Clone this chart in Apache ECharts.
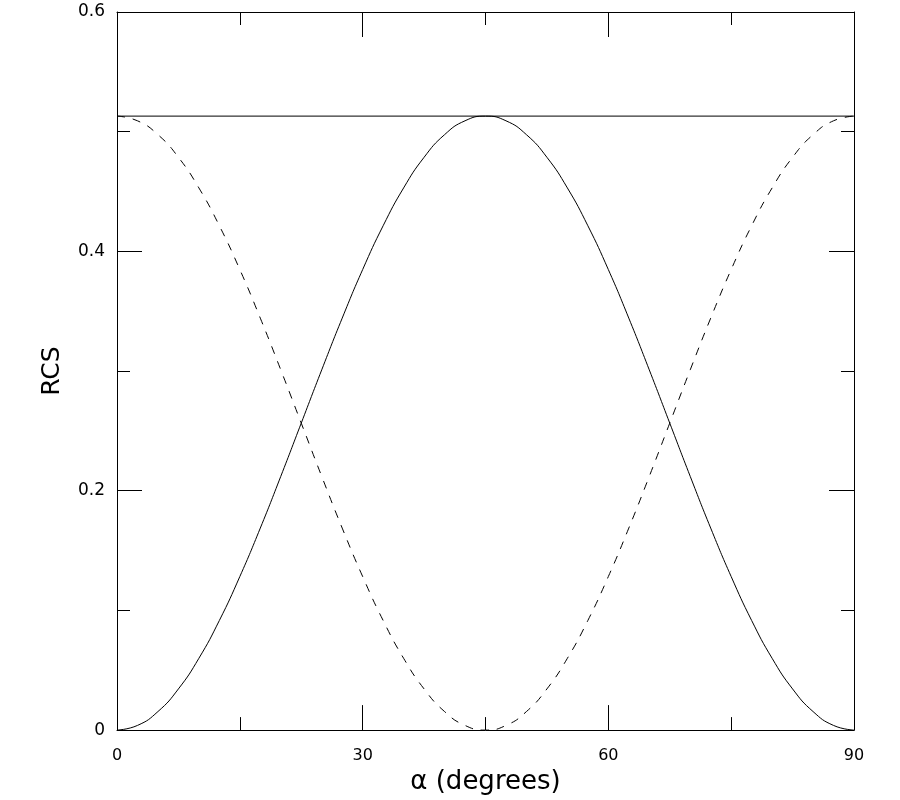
<!DOCTYPE html>
<html>
<head>
<meta charset="utf-8">
<script src="https://cdn.jsdelivr.net/npm/echarts@6/dist/echarts.min.js"></script>
<style>html,body{margin:0;padding:0;background:#fff}#c{width:900px;height:800px}</style>
</head>
<body>
<div id="c"></div>
<script>
var alphaDeg = [0,2.5,5,7.5,10,12.5,15,17.5,20,22.5,25,27.5,30,32.5,35,37.5,40,42.5,45,47.5,50,52.5,55,57.5,60,62.5,65,67.5,70,72.5,75,77.5,80,82.5,85,87.5,90];
var rcsSolid = [0,0.0039,0.0155,0.0344,0.0600,0.0916,0.1283,0.1688,0.2120,0.2565,0.3010,0.3442,0.3848,0.4214,0.4530,0.4786,0.4975,0.5091,0.513,0.5091,0.4975,0.4786,0.4530,0.4214,0.3848,0.3442,0.3010,0.2565,0.2120,0.1688,0.1283,0.0916,0.0600,0.0344,0.0155,0.0039,0];
var rcsDashed = [0.513,0.5091,0.4975,0.4786,0.4530,0.4214,0.3848,0.3442,0.3010,0.2565,0.2120,0.1688,0.1283,0.0916,0.0600,0.0344,0.0155,0.0039,0,0.0039,0.0155,0.0344,0.0600,0.0916,0.1283,0.1688,0.2120,0.2565,0.3010,0.3442,0.3848,0.4214,0.4530,0.4786,0.4975,0.5091,0.513];
var maxLineX = [0, 90];
var maxLineY = [0.513, 0.513];
var xTicks = [0, 30, 60, 90];
var yTicks = [0, 0.2, 0.4, 0.6];

function pairs(xs, ys){ return xs.map(function(x,i){ return [x, ys[i]]; }); }

var font = '"DejaVu Sans", "Liberation Sans", Arial, sans-serif';
var axisLineStyle = {show:true, onZero:false, lineStyle:{color:'#000', width:1}};

function xAx(pos, labels){
  return {
    type:'value', position:pos, min:0, max:90, interval:30,
    axisLine: axisLineStyle,
    axisTick:{show:true, inside:true, length:25, lineStyle:{color:'#000', width:1}},
    minorTick:{show:true, splitNumber:2, length:13, lineStyle:{color:'#000', width:1}},
    splitLine:{show:false},
    axisLabel:{show:labels, color:'#000', fontFamily:font, fontSize:16, margin:18,
      formatter:function(v){ return xTicks.indexOf(v) >= 0 ? String(v) : ''; }},
    name: labels ? 'α (degrees)' : '', nameLocation:'middle', nameGap:26,
    nameTextStyle:{color:'#000', fontFamily:font, fontSize:26}
  };
}
function yAx(pos, labels){
  return {
    type:'value', position:pos, min:0, max:0.6, interval:0.2,
    axisLine: axisLineStyle,
    axisTick:{show:true, inside:true, length:25, lineStyle:{color:'#000', width:1}},
    minorTick:{show:true, splitNumber:2, length:13, lineStyle:{color:'#000', width:1}},
    splitLine:{show:false},
    axisLabel:{show:labels, color:'#000', fontFamily:font, fontSize:17, margin:12,
      formatter:function(v){
        for (var i = 0; i < yTicks.length; i++) {
          if (Math.abs(v - yTicks[i]) < 1e-6) return yTicks[i] === 0 ? '0' : yTicks[i].toFixed(1);
        }
        return '';
      }},
    name: labels ? 'RCS' : '', nameLocation:'middle', nameGap:52, nameRotate:90,
    nameTextStyle:{color:'#000', fontFamily:font, fontSize:25}
  };
}

var chart = echarts.init(document.getElementById('c'), null, {renderer:'canvas'});
chart.setOption({
  animation:false,
  backgroundColor:'#fff',
  grid:{left:117, right:46, top:12, bottom:69, containLabel:false},
  xAxis:[xAx('bottom', true), xAx('top', false)],
  yAxis:[yAx('left', true), yAx('right', false)],
  series:[
    {type:'line', data:pairs(maxLineX, maxLineY), showSymbol:false, symbol:'none',
     lineStyle:{color:'#000', width:1}},
    {type:'line', data:pairs(alphaDeg, rcsSolid), showSymbol:false, symbol:'none', smooth:true,
     lineStyle:{color:'#000', width:1}},
    {type:'line', data:pairs(alphaDeg, rcsDashed), showSymbol:false, symbol:'none', smooth:true,
     lineStyle:{color:'#000', width:1, type:[8,8]}}
  ]
});
</script>
</body>
</html>
